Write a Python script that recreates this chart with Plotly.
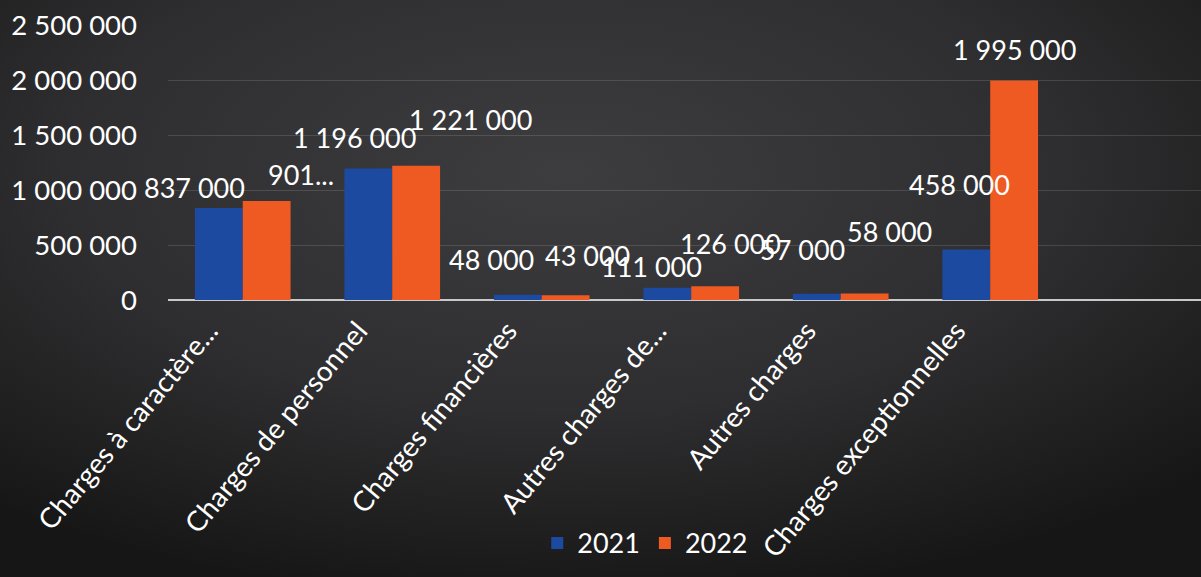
import base64
import plotly.graph_objects as go

categories = ["Charges à caractère...", "Charges de personnel", "Charges financières",
              "Autres charges de...", "Autres charges", "Charges exceptionnelles"]
values_2021 = [837000, 1196000, 48000, 111000, 57000, 458000]
values_2022 = [901000, 1221000, 43000, 126000, 58000, 1995000]
labels_2021 = ["837 000", "1 196 000", "48 000", "111 000", "57 000", "458 000"]
labels_2022 = ["901...", "1 221 000", "43 000", "126 000", "58 000", "1 995 000"]
y_ticks = [0, 500000, 1000000, 1500000, 2000000, 2500000]
y_tick_labels = ["0", "500 000", "1 000 000", "1 500 000", "2 000 000", "2 500 000"]

# label placement style (pixel shifts from bar top centre), as in the source chart
label_dx_2021 = [-24, -14, -26, -16, -14, -7]
label_dy_2021 = [20, 31, 35, 21, 44, 65]
label_dx_2022 = [34, 54, 22, 15, 25, 0]
label_dy_2022 = [26, 46, 40, 43, 62, 31]

FONT = "Lato"
BARGAP = 0.36
half = (1 - BARGAP) / 4  # centre offset of each bar within its group

W, H = 1201, 577
ML, MR, MT, MB = 168, 0, 25, 277
PW, PH = W - ML - MR, H - MT - MB

# dark background with a soft radial vignette
svg = f"""<svg xmlns='http://www.w3.org/2000/svg' width='{W}' height='{H}'>
<defs><radialGradient id='g' cx='0.47' cy='0.3' r='0.75'>
<stop offset='0' stop-color='#3d3d3f'/><stop offset='0.55' stop-color='#2e2e30'/>
<stop offset='1' stop-color='#161616'/></radialGradient></defs>
<rect width='{W}' height='{H}' fill='url(#g)'/></svg>"""
bg_uri = "data:image/svg+xml;base64," + base64.b64encode(svg.encode()).decode()

fig = go.Figure()
fig.add_trace(go.Bar(name="2021", x=categories, y=values_2021,
                     marker=dict(color="#1c4aa0", line=dict(width=0))))
fig.add_trace(go.Bar(name="2022", x=categories, y=values_2022,
                     marker=dict(color="#ee5a22", line=dict(width=0))))

annotations = []
for i in range(len(categories)):
    for vals, labs, dxs, dys, sign in (
        (values_2021, labels_2021, label_dx_2021, label_dy_2021, -1),
        (values_2022, labels_2022, label_dx_2022, label_dy_2022, 1),
    ):
        annotations.append(dict(
            x=i + sign * half, y=vals[i], xref="x", yref="y",
            text=labs[i], showarrow=False, xanchor="center", yanchor="middle",
            xshift=dxs[i], yshift=dys[i],
            font=dict(color="white", size=27, family=FONT)))

fig.update_layout(
    width=W, height=H,
    margin=dict(l=ML, r=MR, t=MT, b=MB),
    paper_bgcolor="#2a2a2a", plot_bgcolor="rgba(0,0,0,0)",
    font=dict(family=FONT, size=27, color="white"),
    barmode="group", bargap=BARGAP, bargroupgap=0,
    showlegend=True,
    legend=dict(orientation="h", x=0.462, xanchor="center", y=-0.885, yanchor="middle",
                font=dict(size=27, color="white", family=FONT), bgcolor="rgba(0,0,0,0)",
                itemwidth=30),
    xaxis=dict(range=[-0.5, 6.41], tickangle=-50, showgrid=False, ticks="",
               showline=False, ticklabelshift=-34, ticklabelstandoff=8,
               tickfont=dict(size=28, color="white", family=FONT)),
    yaxis=dict(range=[0, 2500000], tickvals=y_ticks, ticktext=y_tick_labels,
               showgrid=True, gridcolor="rgba(255,255,255,0.13)", gridwidth=1,
               zeroline=True, zerolinecolor="#c8c8c8", zerolinewidth=2,
               ticklabelstandoff=30, showline=False,
               tickfont=dict(size=27.5, color="white", family=FONT)),
    annotations=annotations,
    images=[dict(source=bg_uri, xref="paper", yref="paper",
                 x=-ML / PW, y=1 + MT / PH, sizex=W / PW, sizey=H / PH,
                 xanchor="left", yanchor="top", sizing="stretch", layer="below")],
)

fig.write_html("out.html", config={"displayModeBar": False},
               post_script="document.body.style.margin='0';")
